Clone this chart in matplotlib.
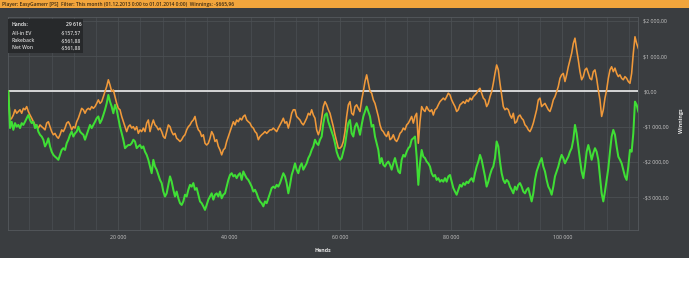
import numpy as np
import matplotlib
matplotlib.use("Agg")
import matplotlib.pyplot as plt
from matplotlib.patches import Rectangle
from matplotlib.ticker import FuncFormatter

# ---------------- data ----------------
title_text = "Player: EasyGamerr [PS]  Filter: This month (01.12.2013 0:00 to 01.01.2014 0:00)  Winnings: -$665,96"
stat_labels = ["Hands:", "All-in EV", "Rakeback", "Net Won"]
stat_values = ["29 616", "-$157,57", "-$561,88", "-$561,88"]
hands_start = 190
hands_end = 113700
y_ticks = [-3000, -2000, -1000, 0, 1000, 2000]
x_ticks = [20000, 40000, 60000, 80000, 100000]

net_won = [
    0, -1040, -860, -1090, -900, -1000, -950, -1040, -900, -950, -860, -760, -670, -810, -900, -860,
    -1040, -950, -1140, -1230, -1280, -1370, -1560, -1470, -1330, -1560, -1710, -1800, -1850, -1890,
    -1940, -1800, -1660, -1610, -1660, -1470, -1370, -1230, -1140, -1280, -1190, -1140, -1000, -1140,
    -1190, -1230, -1370, -1230, -1090, -950, -1040, -950, -860, -760, -710, -900, -810, -670, -520,
    -340, -100, -290, -430, -620, -380, -520, -760, -1000, -1190, -1370, -1610, -1560, -1520,
    # 
    -1520, -1470, -1370, -1420, -1610, -1560, -1520, -1610, -1560, -1710, -1800, -1940, -2130, -2320,
    -1940, -2130, -2220, -2370, -2510, -2600, -2840, -2980, -2890, -2650, -2410, -2560, -2790, -2980,
    -2840, -3030, -3170, -3220, -3120, -2930, -2980, -2790, -2650, -2700, -2600, -2790, -2740, -2930,
    -3120, -3170, -3260, -3360, -3220, -3070, -2980, -2890, -3070, -2930, -2890, -2980, -2840, -3030,
    -2930, -2890, -2700, -2510, -2370, -2320, -2410, -2370, -2460, -2370, -2320, -2510, -2270, -2370,
    -2460, -2510, -2600, -2700, -2840,
    #
    -2790, -2890, -3030, -3120, -3170, -3260, -3120, -3170, -3030, -2890, -2740, -2700, -2740, -2650,
    -2700, -2600, -2460, -2320, -2410, -2600, -2890, -2650, -2370, -2220, -2040, -2220, -2320, -2130,
    -2040, -2220, -2130, -2040, -1890, -1800, -1660, -1560, -1370, -1470, -1520, -1370, -1280, -900,
    -670, -620, -860, -1000, -1140, -1280, -1470, -1710, -1850, -1940, -1890, -1710, -1520, -1190,
    -900, -810, -1190, -1280, -1000, -900, -1040, -1230, -950, -710, -570, -430, -570, -710, -1000,
    -950, -1280, -1470, -1660,
    #
    -2040, -1890, -2080, -2130, -2040, -1990, -2080, -2220, -2040, -1890, -2080, -2270, -2320, -1940,
    -1800, -1850, -1710, -1610, -1560, -1370, -1330, -1280, -1850, -2650, -2040, -1660, -1850, -1890,
    -1990, -2040, -2130, -2320, -2410, -2370, -2510, -2460, -2560, -2510, -2560, -2460, -2560, -2410,
    -2370, -2560, -2740, -2840, -2930, -2790, -2650, -2700, -2600, -2650, -2560, -2600, -2510, -2460,
    -2560, -2320, -2130, -1990, -1800, -1940, -2180, -2410, -2700, -2560, -2370, -2220, -2130, -1890,
    -1420, -1560, -1990, -2320, -2510,
    #
    -2600, -2510, -2560, -2700, -2790, -2890, -2700, -2790, -2650, -2600, -2700, -2840, -2890, -2790,
    -2740, -2930, -3120, -2890, -2510, -2270, -2130, -1990, -1890, -2130, -2270, -2510, -2700, -2790,
    -2930, -2700, -2410, -2270, -2130, -1940, -1800, -1890, -2040, -1940, -1850, -1710, -1610, -1370,
    -950, -1190, -1560, -1940, -2270, -2460, -2130, -1710, -1520, -1710, -1940, -1750, -1610, -1710,
    -1940, -2410, -2890, -3120, -2840, -2510, -2180, -1710, -1280, -1090, -1230, -1560, -1850, -1940,
    -2040, -2220, -2410, -2510, -2130, -1660, -1710, -1190, -290, -380, -570,
]

all_in_ev = [
    0, -810, -760, -670, -520, -620, -570, -520, -620, -480, -520, -430, -570, -670, -760, -860, -950,
    -1000, -1040, -950, -1000, -1040, -1090, -900, -860, -1000, -1140, -1230, -1190, -1280, -1330,
    -1230, -1090, -1140, -1040, -900, -860, -950, -1090, -1000, -1040, -860, -760, -620, -480, -520,
    -620, -520, -480, -520, -430, -480, -430, -340, -240, -340, -290, -150, 0, 140, 330, 180, 0, 40,
    -150, -340, -480, -520, -710, -860, -1000, -1140, -1000,
    #
    -950, -1040, -1000, -1090, -1000, -1190, -1090, -1140, -1040, -1140, -900, -810, -1140, -950, -810,
    -950, -1000, -1090, -1040, -1140, -1280, -1330, -1140, -950, -1000, -1140, -1230, -1190, -1330,
    -1370, -1420, -1370, -1280, -1230, -1090, -1000, -950, -860, -810, -710, -950, -1090, -1140, -1280,
    -1230, -1470, -1520, -1470, -1330, -1140, -1230, -1420, -1370, -1560, -1660, -1800, -1660, -1610,
    -1420, -1280, -1140, -1000, -860, -950, -810, -860, -760, -810, -710, -670, -810, -860, -900,
    -1000, -1040,
    #
    -1140, -1190, -1370, -1280, -1230, -1190, -1140, -1190, -1140, -1090, -1090, -1040, -1090, -1140,
    -1040, -950, -860, -760, -900, -860, -1040, -860, -620, -520, -520, -710, -760, -810, -900, -950,
    -860, -760, -620, -670, -520, -670, -760, -1090, -1230, -1090, -760, -430, -290, -380, -520, -620,
    -810, -1000, -1230, -1420, -1610, -1610, -1560, -1420, -1140, -710, -380, -290, -620, -670, -430,
    -380, -480, -570, -240, 0, 280, 470, 230, 0, -50, -240, -340, -520, -710,
    #
    -950, -1090, -1140, -1230, -1280, -1140, -1370, -1330, -1230, -1370, -1420, -1330, -1190, -1140,
    -1040, -1090, -950, -900, -810, -710, -900, -710, -620, -1470, -860, -430, -520, -570, -430, -520,
    -570, -520, -670, -520, -480, -380, -290, -240, -190, -240, -150, -50, -100, -240, -340, -430,
    -570, -520, -380, -340, -290, -340, -240, -290, -190, -240, -150, -100, -50, 40, 90, -50, -190,
    -240, -430, -340, -150, -10, 230, 510, 750, 610, 230, -100, -430,
    #
    -520, -480, -520, -670, -760, -620, -900, -860, -710, -670, -760, -810, -950, -1000, -1090, -1140,
    -1040, -900, -710, -520, -240, -190, -430, -380, -340, -430, -520, -570, -430, -240, -150, -10,
    140, 370, 470, 510, 280, 470, 700, 890, 1080, 1360, 1510, 1180, 890, 560, 330, 420, 610, 660, 510,
    370, 330, 560, 610, 370, 40, -240, -710, -520, -190, 40, 370, 610, 700, 560, 660, 510, 420, 470,
    370, 330, 420, 370, 280, 230, 510, 1080, 1550, 1360, 1220,
]

# ---------------- style ----------------
W, H = 700, 294
PANEL = "#3a3d40"
BAR = "#f2a53c"
GRID = "#4b4f53"
TXT = "#c9c9c9"
ORANGE = "#f0993a"
GREEN = "#3fde35"

plt.rcParams['font.family'] = ['Open Sans', 'DejaVu Sans']

fig = plt.figure(figsize=(W / 100, H / 100), dpi=100, facecolor="white")

def fx(px):
    return px / W

def fy(py):
    return 1 - py / H

# panel and top bar (behind the axes)
fig.patches.append(Rectangle((0, fy(258)), fx(689), fy(8) - fy(258), transform=fig.transFigure,
                             facecolor=PANEL, edgecolor="none", zorder=-10))
fig.patches.append(Rectangle((0, fy(8)), fx(689), fy(0) - fy(8), transform=fig.transFigure,
                             facecolor=BAR, edgecolor="none", zorder=-10))
fig.text(fx(2), fy(4.2), title_text, fontsize=3.5, color="#3b2a12", va="center", ha="left",
         fontweight="semibold")

ax = fig.add_axes([fx(8.3), fy(230), fx(638.3) - fx(8.3), fy(17) - fy(230)])
ax.set_zorder(1)
ax.set_facecolor(PANEL)

hands_ev = np.linspace(hands_start, hands_end, len(all_in_ev))
hands_nw = np.linspace(hands_start, hands_end, len(net_won))

ax.axhline(0, color="#eeeeee", lw=1.2, zorder=2)
ax.plot(hands_ev, all_in_ev, color=ORANGE, lw=1.15, zorder=3)
ax.plot(hands_nw, net_won, color=GREEN, lw=1.45, zorder=4)

ax.set_xlim(180, 113700)
ax.set_ylim(-3930, 2110)

for s in ax.spines.values():
    s.set_color("#55595d")
    s.set_linewidth(0.6)

ax.set_xticks(x_ticks)
ax.set_xticks(np.arange(4000, 113700, 4000), minor=True)
ax.set_yticks(y_ticks)
ax.grid(True, which="major", color=GRID, lw=0.6, zorder=1)
ax.grid(True, which="minor", axis="x", color=GRID, lw=0.5, zorder=1)
ax.set_axisbelow(True)
ax.yaxis.tick_right()

def xfmt(v, pos):
    return f"{int(v):,}".replace(",", " ")

def yfmt(v, pos):
    s = f"{abs(v):,.2f}".replace(",", " ").replace(".", ",")
    return ("-$" if v < 0 else "$") + s

ax.xaxis.set_major_formatter(FuncFormatter(xfmt))
ax.yaxis.set_major_formatter(FuncFormatter(yfmt))
ax.tick_params(axis="both", which="both", length=0, labelsize=3.8, labelcolor=TXT)
ax.tick_params(axis="x", pad=3.5)
ax.tick_params(axis="y", pad=3.5)

fig.text(fx(323), fy(250), "Hands", fontsize=3.8, color="#e6e6e6", fontweight="bold",
         ha="center", va="center")
fig.text(fx(682), fy(121), "Winnings", fontsize=3.8, color="#e6e6e6", fontweight="bold",
         ha="center", va="center", rotation=90)

# stats box (above the axes)
box = Rectangle((fx(8.3), fy(53)), fx(83) - fx(8.3), fy(19) - fy(53),
                transform=fig.transFigure, facecolor="#27292b", edgecolor="none", zorder=5)
fig.patches.append(box)
rows_y = [24.3, 33.2, 40.6, 47.8]
for i, (lab, val, yy) in enumerate(zip(stat_labels, stat_values, rows_y)):
    col = "#f2f2f2" if i == 0 else "#d0d0d0"
    fig.text(fx(12), fy(yy), lab, fontsize=3.6, color=col, ha="left", va="center",
             fontweight="semibold", zorder=6)
    fig.text(fx(81.5), fy(yy), val, fontsize=3.6, color=col, ha="right", va="center",
             fontweight="semibold", zorder=6)

fig.savefig("out.png", dpi=100, facecolor="white")
